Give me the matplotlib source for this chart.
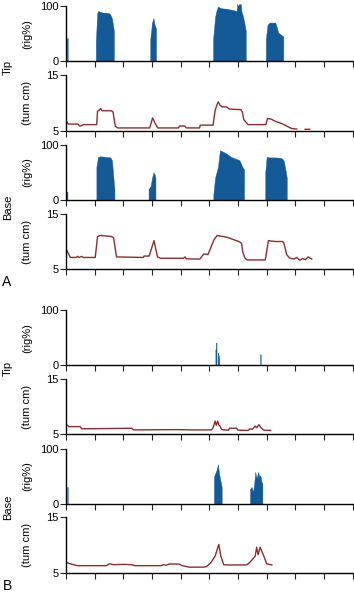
import numpy as np
import matplotlib.pyplot as plt

plt.rcParams['font.family'] = ['Liberation Sans', 'DejaVu Sans']

nan = np.nan

# ---- panel A, tip ----
a_tip_rig_x = [0.03, 0.03, 0.06, 0.06,
               1.04, 1.04, 1.09, 1.13, 1.2, 1.3, 1.4, 1.5, 1.55, 1.6, 1.65, 1.67, 1.67,
               2.94, 2.94, 3.0, 3.05, 3.1, 3.14, 3.14,
               5.13, 5.13, 5.2, 5.25, 5.3, 5.4, 5.6, 5.8, 5.95, 5.97, 6.0, 6.05, 6.1, 6.12, 6.17, 6.22, 6.27, 6.27,
               6.97, 6.97, 7.03, 7.1, 7.3, 7.35, 7.4, 7.5, 7.58, 7.58]
a_tip_rig_y = [0, 42, 42, 0,
               0, 35, 88, 91, 89, 88, 88, 87, 84, 78, 62, 55, 0,
               0, 40, 70, 78, 64, 60, 0,
               0, 40, 80, 92, 99, 96, 95, 93, 91, 104, 100, 104, 103, 90, 82, 70, 55, 0,
               0, 40, 66, 70, 70, 62, 52, 48, 45, 0]

a_tip_tum_x = [0.0, 0.08, 0.42, 0.47, 0.55, 0.6, 1.07, 1.1, 1.16, 1.21, 1.26, 1.58, 1.64, 1.72, 1.8,
               2.92, 3.02, 3.1, 3.2, 3.92, 3.96, 4.14, 4.2, 4.66, 4.68, 5.13, 5.2, 5.26, 5.31, 5.37,
               5.45, 5.6, 5.7, 6.1, 6.15, 6.2, 6.35, 6.97, 7.03, 7.15, 7.3, 7.52, 7.75, 7.87, 8.05,
               nan, 8.34, 8.5]
a_tip_tum_y = [6.8, 6.2, 6.2, 5.85, 5.9, 6.1, 6.1, 8.5, 8.7, 9.0, 8.6, 8.6, 8.4, 5.8, 5.5,
               5.5, 7.3, 6.4, 5.5, 5.5, 5.85, 5.85, 5.5, 5.5, 6.0, 6.0, 8.6, 9.6, 10.2, 9.6,
               9.3, 9.3, 8.9, 8.8, 8.4, 7.0, 6.1, 6.1, 7.2, 7.1, 6.7, 6.3, 5.7, 5.4, 5.3,
               nan, 5.25, 5.25]

# ---- panel A, base ----
a_base_rig_x = [0.02, 0.02, 0.05, 0.05,
                1.06, 1.06, 1.12, 1.2, 1.4, 1.55, 1.6, 1.63, 1.67, 1.69, 1.69,
                2.88, 2.88, 2.95, 3.0, 3.05, 3.1, 3.12, 3.12,
                5.14, 5.14, 5.2, 5.25, 5.3, 5.37, 5.45, 5.6, 5.75, 5.9, 6.05, 6.15, 6.21, 6.21,
                6.95, 6.95, 7.0, 7.1, 7.3, 7.5, 7.55, 7.6, 7.67, 7.7, 7.7]
a_base_rig_y = [0, 15, 15, 0,
                0, 60, 78, 79, 78, 77, 72, 55, 30, 20, 0,
                0, 20, 25, 40, 50, 45, 40, 0,
                0, 10, 40, 50, 60, 90, 88, 84, 78, 75, 72, 60, 55, 0,
                0, 50, 78, 77, 77, 76, 74, 70, 50, 40, 0]

a_base_tum_x = [0.0, 0.05, 0.15, 0.35, 0.4, 0.45, 0.55, 0.6, 0.65, 1.02, 1.1, 1.2, 1.4, 1.59, 1.66,
                1.76, 2.7, 2.72, 2.9, 3.07, 3.19, 3.3, 4.1, 4.15, 4.2, 4.67, 4.8, 4.9, 4.95,
                5.16, 5.27, 5.37, 5.5, 5.66, 5.76, 5.92, 6.03, 6.12, 6.17, 6.24, 6.32, 6.95,
                7.06, 7.3, 7.56, 7.6, 7.7, 7.8, 7.95, 8.05, 8.15, 8.25, 8.35, 8.45, 8.57]
a_base_tum_y = [8.75, 8.15, 7.1, 7.1, 7.3, 7.1, 7.3, 7.1, 7.1, 7.1, 10.9, 11.1, 11.0, 10.9, 10.7,
                7.2, 7.1, 7.35, 7.35, 10.15, 7.2, 6.95, 6.95, 7.2, 6.85, 6.8, 7.7, 7.7, 7.6,
                10.3, 11.1, 11.0, 10.9, 10.7, 10.5, 10.2, 10.0, 9.7, 8.0, 7.0, 6.65, 6.65,
                10.15, 10.0, 10.0, 9.7, 7.6, 7.0, 6.8, 7.1, 6.6, 6.9, 6.7, 7.2, 6.8]

# ---- panel B, tip ----
b_tip_rig_x = [5.21, 5.21, 5.23, 5.23, 5.23, 5.25, 5.25, 5.29, 5.29, 5.31, 5.31, 5.33, 5.33, 5.35, 5.35,
               6.77, 6.77, 6.79, 6.79]
b_tip_rig_y = [0, 29, 29, 0, 41, 41, 0, 0, 23, 23, 0, 19, 19, 0, 0,
               0, 20, 20, 0]

b_tip_tum_x = [0.0, 0.1, 0.49, 0.55, 1.5, 2.29, 2.35, 3.8, 4.5, 5.08, 5.13, 5.2, 5.24, 5.29, 5.33,
               5.37, 5.43, 5.67, 5.7, 5.95, 6.0, 6.35, 6.42, 6.5, 6.6, 6.65, 6.73, 6.8, 6.9, 7.14]
b_tip_tum_y = [6.8, 6.4, 6.4, 6.0, 6.05, 6.1, 5.8, 5.85, 5.8, 5.8, 6.2, 7.4, 6.65, 7.4, 6.7,
               6.5, 5.85, 5.75, 6.1, 6.1, 5.75, 5.7, 6.0, 5.9, 6.5, 6.2, 6.75, 6.2, 5.75, 5.7]

# ---- panel B, base ----
b_base_rig_x = [0.04, 0.04, 0.06, 0.06,
                5.16, 5.16, 5.2, 5.25, 5.3, 5.33, 5.37, 5.41, 5.43, 5.43,
                6.42, 6.42, 6.47, 6.52, 6.56, 6.6, 6.65, 6.7, 6.74, 6.78, 6.82, 6.85, 6.85]
b_base_rig_y = [0, 31, 31, 0,
                0, 49, 55, 61, 72, 58, 46, 37, 30, 0,
                0, 27, 31, 22, 34, 58, 46, 58, 49, 52, 40, 37, 0]

b_base_tum_x = [0.0, 0.17, 0.4, 1.42, 1.5, 1.65, 2.0, 2.29, 2.4, 3.33, 3.38, 3.5, 3.6, 3.95, 4.05,
                4.3, 4.8, 4.9, 5.05, 5.2, 5.33, 5.4, 5.5, 5.6, 6.3, 6.4, 6.5, 6.6, 6.65, 6.7,
                6.77, 6.9, 7.0, 7.18]
b_base_tum_y = [6.87, 6.57, 6.27, 6.27, 6.6, 6.45, 6.5, 6.45, 6.27, 6.27, 6.45, 6.35, 6.57, 6.57, 6.27,
                6.0, 6.0, 6.1, 6.8, 8.0, 10.1, 8.0, 6.45, 6.4, 6.4, 6.8, 7.4, 8.0, 9.6, 8.25,
                9.6, 8.0, 6.6, 6.4]

rig_color = '#145a97'
tum_color = '#8c2d2d'

W, H = 354, 593
fig = plt.figure(figsize=(W / 100, H / 100), dpi=100)

# (top, bottom) in pixels for each axes
boxes = [(6, 61.3), (75.3, 130.7), (144.7, 200), (214, 269),
         (310, 365.3), (379.3, 434.3), (448.7, 504), (517.3, 572.7)]
series = [(a_tip_rig_x, a_tip_rig_y, 'rig'), (a_tip_tum_x, a_tip_tum_y, 'tum'),
          (a_base_rig_x, a_base_rig_y, 'rig'), (a_base_tum_x, a_base_tum_y, 'tum'),
          (b_tip_rig_x, b_tip_rig_y, 'rig'), (b_tip_tum_x, b_tip_tum_y, 'tum'),
          (b_base_rig_x, b_base_rig_y, 'rig'), (b_base_tum_x, b_base_tum_y, 'tum')]

left, right = 66, 352.7
for (top, bot), (xs, ys, kind) in zip(boxes, series):
    ax = fig.add_axes([left / W, 1 - bot / H, (right - left) / W, (bot - top) / H])
    if kind == 'rig':
        ax.fill_between(xs, ys, 0, color=rig_color, lw=0.3, clip_on=False)
        ax.set_ylim(0, 100)
        ax.set_yticks([0, 100])
        ylab = '(rig%)'
    else:
        ax.plot(xs, ys, color=tum_color, lw=1.0)
        ax.set_ylim(5, 15)
        ax.set_yticks([5, 15])
        ylab = '(tum cm)'
    ax.set_xlim(0, 10)
    ax.set_xticks(range(11))
    ax.set_xticklabels([])
    for s in ['top', 'right']:
        ax.spines[s].set_visible(False)
    for s in ['left', 'bottom']:
        ax.spines[s].set_linewidth(1.0)
    ax.tick_params(direction='out', length=4, width=0.8, labelsize=8, pad=1.5, color='#222222')
    fig.text(27 / W, 1 - (top + bot) / 2 / H, ylab, rotation=90, ha='center', va='center', fontsize=8)

fig.text(8 / W, 1 - 67 / H, 'Tip', rotation=90, ha='center', va='center', fontsize=8)
fig.text(8 / W, 1 - 207 / H, 'Base', rotation=90, ha='center', va='center', fontsize=8)
fig.text(8 / W, 1 - 368 / H, 'Tip', rotation=90, ha='center', va='center', fontsize=8)
fig.text(8 / W, 1 - 507 / H, 'Base', rotation=90, ha='center', va='center', fontsize=8)
fig.text(7 / W, 1 - 282 / H, 'A', ha='center', va='center', fontsize=10)
fig.text(7 / W, 1 - 586 / H, 'B', ha='center', va='center', fontsize=10)

fig.savefig('out.png', dpi=100)
